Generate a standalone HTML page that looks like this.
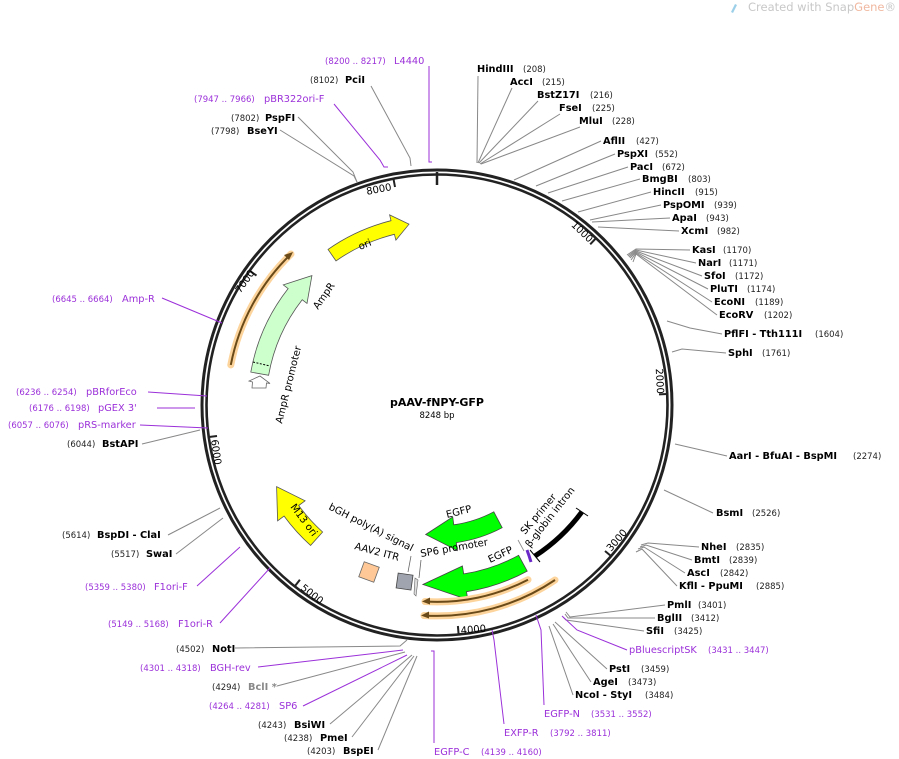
<!DOCTYPE html>
<html><head><meta charset="utf-8"><style>
html,body{margin:0;padding:0;background:#fff;}
svg{display:block;font-family:"DejaVu Sans","Liberation Sans",sans-serif;}
.b{font-weight:bold;font-size:9.8px;fill:#000}
.n{font-size:8.5px;fill:#222}
.p{font-size:8.5px;fill:#9b30d9}
.pl{font-size:9.8px;fill:#9b30d9}
.g{stroke:#888;stroke-width:1;fill:none}
.pu{stroke:#9b30d9;stroke-width:1;fill:none}
.t{font-size:10px;fill:#000}
.f{font-size:10px}
</style></head><body>
<svg width="899" height="759" viewBox="0 0 899 759">
<text x="748" y="11" font-size="11.5" fill="#c8c8c8">Created with Snap<tspan fill="#f0b8a0">Gene</tspan>®</text>
<path d="M731,12 l4,-8 l2,1 l-4,8z" fill="#9cd0e8"/>

<circle cx="437" cy="405" r="235" fill="none" stroke="#222" stroke-width="3"/>
<circle cx="437" cy="405" r="230.5" fill="none" stroke="#222" stroke-width="2.6"/>
<line x1="437" y1="172" x2="437" y2="185" stroke="#222" stroke-width="2.5"/>

<g stroke="#222" stroke-width="2">
<line x1="595.7" y1="238.5" x2="590.2" y2="244.3"/>
<line x1="666.8" y1="394" x2="659" y2="394.4"/>
<line x1="611" y1="556" x2="605" y2="551"/>
<line x1="458.6" y1="634" x2="457.9" y2="626"/>
<line x1="295" y1="586" x2="299.9" y2="579.7"/>
<line x1="209" y1="437" x2="217" y2="436"/>
<line x1="250" y1="271" x2="256.5" y2="275.6"/>
<line x1="393.5" y1="179" x2="395" y2="187"/>
</g>
<g class="t">
<text transform="translate(589,243) rotate(43.6)" text-anchor="end">1000</text>
<text transform="translate(657,394) rotate(87.3)" text-anchor="end">2000</text>
<text transform="translate(611,552) rotate(-49)">3000</text>
<text transform="translate(461,634) rotate(-5.4)">4000</text>
<text transform="translate(300,589) rotate(38.2)">5000</text>
<text transform="translate(211,440) rotate(81.9)">6000</text>
<text transform="translate(255,273) rotate(-54.5)" text-anchor="end">7000</text>
<text transform="translate(392,190) rotate(-10.9)" text-anchor="end">8000</text>
</g>

<path d="M328,249.4 A190 190 0 0 1 391,220.7 L389.6,214.9 L409,224.2 L395.9,240.1 L394.4,234.3 A176 176 0 0 0 336,260.9 Z" fill="#ffff00" stroke="#555" stroke-width="0.8"/>
<text transform="translate(360,250) rotate(-22)" class="f">ori</text>

<path d="M250.8,372.1 A189 189 0 0 1 288.1,288.6 L283.3,284.9 L311.9,275.6 L307,303.4 L302.2,299.7 A171 171 0 0 0 268.6,375.3 Z" fill="#ccffcc" stroke="#555" stroke-width="0.8"/>
<line x1="253" y1="362" x2="270" y2="366" stroke="#000" stroke-dasharray="2,1.5" stroke-width="1"/>
<text transform="translate(318,310) rotate(-55)" class="f">AmpR</text>
<path d="M252,388 L266,388 L266.5,383 L270,383.5 L260,376 L249,381 L252.5,382 Z" fill="#fff" stroke="#666" stroke-width="0.8"/>
<text transform="translate(282,424) rotate(-76)" class="f">AmpR promoter</text>

<path d="M230.8,364.9 A210 210 0 0 1 291,254" fill="none" stroke="#fcd49c" stroke-width="7" stroke-linecap="round"/>
<path d="M230.8,364.9 A210 210 0 0 1 291,254" fill="none" stroke="#6a4a18" stroke-width="2"/>
<path d="M293,252 l-9,3 l5,5z" fill="#6a4a18"/>

<path d="M310.6,545.4 A189 189 0 0 1 284.1,516.1 L277.6,520.8 L276.6,486.7 L305.1,500.8 L298.7,505.5 A171 171 0 0 0 322.6,532 Z" fill="#ffff00" stroke="#555" stroke-width="0.8"/>
<text transform="translate(290,507) rotate(53)" class="f">M13 ori</text>

<path d="M493.8,511.8 A121 121 0 0 1 453.8,524.8 L452.7,516.9 L425.7,534.5 L457.4,550.6 L456.3,542.6 A139 139 0 0 0 502.2,527.7 Z" fill="#00ff00" stroke="#444" stroke-width="0.8"/>
<text transform="translate(447,518) rotate(-14)" class="f">EGFP</text>
<path d="M518.6,555.3 A171 171 0 0 1 463.7,573.9 L462.4,566 L422.9,584.5 L467.8,599.6 L466.5,591.7 A189 189 0 0 0 527.2,571.1 Z" fill="#00ff00" stroke="#444" stroke-width="0.8"/>
<text transform="translate(490,563) rotate(-25)" class="f">EGFP</text>

<path d="M528,579.7 A197 197 0 0 1 425,601.5" fill="none" stroke="#fcd49c" stroke-width="7" stroke-linecap="round"/>
<path d="M528,579.7 A197 197 0 0 1 425,601.5" fill="none" stroke="#6a4a18" stroke-width="2"/>
<path d="M422,601.5 l8,-4 l0,7z" fill="#6a4a18"/>
<path d="M555,580 A211 211 0 0 1 424,615.5" fill="none" stroke="#fcd49c" stroke-width="7" stroke-linecap="round"/>
<path d="M555,580 A211 211 0 0 1 424,615.5" fill="none" stroke="#6a4a18" stroke-width="2"/>
<path d="M421,615.5 l8,-4 l0,7z" fill="#6a4a18"/>

<path d="M581.7,512.1 A180 180 0 0 1 535,556" fill="none" stroke="#000" stroke-width="5"/>
<line x1="576" y1="508" x2="588" y2="516" stroke="#000" stroke-width="1"/>
<line x1="530" y1="550" x2="540" y2="562" stroke="#000" stroke-width="1"/>
<path d="M527,550 A172 172 0 0 1 531,562" fill="none" stroke="#6a28c8" stroke-width="3"/>
<line x1="518" y1="540" x2="524" y2="551" stroke="#888" stroke-width="0.8"/>
<text transform="translate(525,535) rotate(-50)" class="f">SK primer</text>
<text transform="translate(530,548) rotate(-52)" class="f">β-globin intron</text>

<rect x="361" y="564" width="16" height="16" fill="#ffc896" stroke="#666" stroke-width="0.8" transform="rotate(20 369 572)"/>
<rect x="397" y="574" width="15" height="15" fill="#a0a4ae" stroke="#444" stroke-width="0.8" transform="rotate(8 404 582)"/>
<path d="M415,578 L418,580 L416,596 L414,594Z" fill="#ddd" stroke="#666" stroke-width="0.6"/>
<line x1="408" y1="572" x2="411" y2="556" stroke="#666" stroke-width="0.8"/>
<line x1="419" y1="578" x2="421" y2="560" stroke="#666" stroke-width="0.8"/>
<text transform="translate(328,509) rotate(27)" class="f">bGH poly(A) signal</text>
<text transform="translate(354,549) rotate(15)" class="f">AAV2 ITR</text>
<text transform="translate(421,557) rotate(-10)" class="f">SP6 promoter</text>

<text x="437" y="406" text-anchor="middle" font-weight="bold" font-size="11">pAAV-fNPY-GFP</text>
<text x="437" y="418" text-anchor="middle" font-size="8.5">8248 bp</text>

<g class="g">
<polyline points="478,76 477,163"/>
<polyline points="512,88 478,163"/>
<polyline points="538,101 479,163"/>
<polyline points="560,114 480,164"/>
<polyline points="580,127 481,164"/>
<polyline points="601,141 514,180"/>
<polyline points="615,154 536,186"/>
<polyline points="628,167 548,193"/>
<polyline points="640,179 562,201"/>
<polyline points="651,192 578,212"/>
<polyline points="661,205 590,220"/>
<polyline points="670,218 592,222"/>
<polyline points="679,231 598,227"/>
<polyline points="690,250 636,249 627,255"/>
<polyline points="696,263 636,250 628,256"/>
<polyline points="702,276 636,251 629,257"/>
<polyline points="708,289 636,252 630,258"/>
<polyline points="712,302 636,253 631,260"/>
<polyline points="717,315 636,254 633,262"/>
<polyline points="722,334 690,328 667,321"/>
<polyline points="726,353 682,349 672,352"/>
<polyline points="727,456 675,444"/>
<polyline points="713,513 664,490"/>
<polyline points="699,547 648,543 641,545"/>
<polyline points="692,560 646,545 640,547"/>
<polyline points="685,573 644,547 638,549"/>
<polyline points="677,586 642,549 636,552"/>
<polyline points="665,605 570,617 566,612"/>
<polyline points="655,618 568,618 565,614"/>
<polyline points="644,631 566,620 563,617"/>
<polyline points="607,669 555,622"/>
<polyline points="591,682 553,624"/>
<polyline points="573,695 549,626"/>
<polyline points="235,648 400,646 407,640"/>
<polyline points="277,686 405,652"/>
<polyline points="330,724 412,655"/>
<polyline points="352,737 414,656"/>
<polyline points="378,750 417,656"/>
<polyline points="176,554 223,518"/>
<polyline points="168,535 220,508"/>
<polyline points="142,444 200,430"/>
<polyline points="280,130 354,176 357,182"/>
<polyline points="298,117 353,172 357,182"/>
<polyline points="371,86 410,158 411,166"/>
</g>
<g class="pu">
<polyline points="627,650 577,630 562,616"/>
<polyline points="544,705 541,630 536,615"/>
<polyline points="504,724 494,640 492,630"/>
<polyline points="434,743 434,651 431,651"/>
<polyline points="258,667 403,650"/>
<polyline points="303,706 407,655"/>
<polyline points="220,623 270,568"/>
<polyline points="197,586 240,547"/>
<polyline points="140,425 208,428"/>
<polyline points="157,408 195,408"/>
<polyline points="148,392 207,396"/>
<polyline points="162,298 222,323"/>
<polyline points="334,104 380,160 384,167 388,167"/>
<polyline points="429,66 429,162 432,162"/>
</g>

<text x="325" y="64" class="p">(8200 .. 8217)</text><text x="394" y="64" class="pl">L4440</text>
<text x="310" y="83" class="n">(8102)</text><text x="345" y="83" class="b">PciI</text>
<text x="194" y="102" class="p">(7947 .. 7966)</text><text x="264" y="102" class="pl">pBR322ori-F</text>
<text x="231" y="121" class="n">(7802)</text><text x="265" y="121" class="b">PspFI</text>
<text x="211" y="134" class="n">(7798)</text><text x="247" y="134" class="b">BseYI</text>

<text x="477" y="72" class="b">HindIII</text><text x="523" y="72" class="n">(208)</text>
<text x="510" y="85" class="b">AccI</text><text x="542" y="85" class="n">(215)</text>
<text x="537" y="98" class="b">BstZ17I</text><text x="590" y="98" class="n">(216)</text>
<text x="559" y="111" class="b">FseI</text><text x="592" y="111" class="n">(225)</text>
<text x="579" y="124" class="b">MluI</text><text x="612" y="124" class="n">(228)</text>
<text x="603" y="144" class="b">AflII</text><text x="636" y="144" class="n">(427)</text>
<text x="617" y="157" class="b">PspXI</text><text x="655" y="157" class="n">(552)</text>
<text x="630" y="170" class="b">PacI</text><text x="662" y="170" class="n">(672)</text>
<text x="642" y="182" class="b">BmgBI</text><text x="688" y="182" class="n">(803)</text>
<text x="653" y="195" class="b">HincII</text><text x="695" y="195" class="n">(915)</text>
<text x="663" y="208" class="b">PspOMI</text><text x="714" y="208" class="n">(939)</text>
<text x="672" y="221" class="b">ApaI</text><text x="706" y="221" class="n">(943)</text>
<text x="681" y="234" class="b">XcmI</text><text x="717" y="234" class="n">(982)</text>
<text x="692" y="253" class="b">KasI</text><text x="723" y="253" class="n">(1170)</text>
<text x="698" y="266" class="b">NarI</text><text x="729" y="266" class="n">(1171)</text>
<text x="704" y="279" class="b">SfoI</text><text x="735" y="279" class="n">(1172)</text>
<text x="710" y="292" class="b">PluTI</text><text x="747" y="292" class="n">(1174)</text>
<text x="714" y="305" class="b">EcoNI</text><text x="755" y="305" class="n">(1189)</text>
<text x="719" y="318" class="b">EcoRV</text><text x="764" y="318" class="n">(1202)</text>
<text x="724" y="337" class="b">PflFI  - Tth111I</text><text x="815" y="337" class="n">(1604)</text>
<text x="728" y="356" class="b">SphI</text><text x="762" y="356" class="n">(1761)</text>
<text x="729" y="459" class="b">AarI  - BfuAI  - BspMI</text><text x="853" y="459" class="n">(2274)</text>
<text x="716" y="516" class="b">BsmI</text><text x="752" y="516" class="n">(2526)</text>
<text x="701" y="550" class="b">NheI</text><text x="736" y="550" class="n">(2835)</text>
<text x="694" y="563" class="b">BmtI</text><text x="729" y="563" class="n">(2839)</text>
<text x="687" y="576" class="b">AscI</text><text x="720" y="576" class="n">(2842)</text>
<text x="679" y="589" class="b">KflI  - PpuMI</text><text x="756" y="589" class="n">(2885)</text>
<text x="667" y="608" class="b">PmlI</text><text x="698" y="608" class="n">(3401)</text>
<text x="657" y="621" class="b">BglII</text><text x="691" y="621" class="n">(3412)</text>
<text x="646" y="634" class="b">SfiI</text><text x="674" y="634" class="n">(3425)</text>
<text x="629" y="653" class="pl">pBluescriptSK</text><text x="708" y="653" class="p">(3431 .. 3447)</text>
<text x="609" y="672" class="b">PstI</text><text x="641" y="672" class="n">(3459)</text>
<text x="593" y="685" class="b">AgeI</text><text x="628" y="685" class="n">(3473)</text>
<text x="575" y="698" class="b">NcoI  - StyI</text><text x="645" y="698" class="n">(3484)</text>
<text x="544" y="717" class="pl">EGFP-N</text><text x="591" y="717" class="p">(3531 .. 3552)</text>
<text x="504" y="736" class="pl">EXFP-R</text><text x="550" y="736" class="p">(3792 .. 3811)</text>
<text x="434" y="755" class="pl">EGFP-C</text><text x="481" y="755" class="p">(4139 .. 4160)</text>

<text x="176" y="652" class="n">(4502)</text><text x="212" y="652" class="b">NotI</text>
<text x="140" y="671" class="p">(4301 .. 4318)</text><text x="210" y="671" class="pl">BGH-rev</text>
<text x="212" y="690" class="n">(4294)</text><text x="248" y="690" class="b" style="fill:#888">BclI *</text>
<text x="209" y="709" class="p">(4264 .. 4281)</text><text x="279" y="709" class="pl">SP6</text>
<text x="258" y="728" class="n">(4243)</text><text x="294" y="728" class="b">BsiWI</text>
<text x="284" y="741" class="n">(4238)</text><text x="320" y="741" class="b">PmeI</text>
<text x="307" y="754" class="n">(4203)</text><text x="343" y="754" class="b">BspEI</text>
<text x="108" y="627" class="p">(5149 .. 5168)</text><text x="178" y="627" class="pl">F1ori-R</text>
<text x="85" y="590" class="p">(5359 .. 5380)</text><text x="154" y="590" class="pl">F1ori-F</text>
<text x="111" y="557" class="n">(5517)</text><text x="146" y="557" class="b">SwaI</text>
<text x="62" y="538" class="n">(5614)</text><text x="97" y="538" class="b">BspDI  - ClaI</text>
<text x="67" y="447" class="n">(6044)</text><text x="102" y="447" class="b">BstAPI</text>
<text x="8" y="428" class="p">(6057 .. 6076)</text><text x="78" y="428" class="pl">pRS-marker</text>
<text x="29" y="411" class="p">(6176 .. 6198)</text><text x="98" y="411" class="pl">pGEX 3'</text>
<text x="16" y="395" class="p">(6236 .. 6254)</text><text x="86" y="395" class="pl">pBRforEco</text>
<text x="52" y="302" class="p">(6645 .. 6664)</text><text x="122" y="302" class="pl">Amp-R</text>
</svg>
</body></html>
